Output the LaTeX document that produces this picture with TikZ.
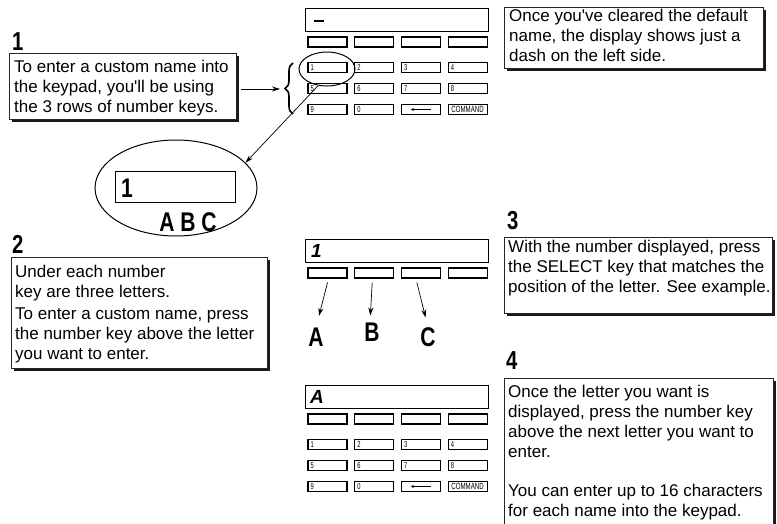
\documentclass[tikz,border=0pt]{standalone}
\usepackage{fontspec}
\setmainfont{Liberation Sans}[Ligatures=TeXOff]
\newfontfamily\headfont{Liberation Sans}[FakeStretch=0.78]
\newfontfamily\keyfont{Liberation Sans}[FakeStretch=0.68]
\usetikzlibrary{arrows.meta,shapes.geometric,decorations.pathreplacing}
\tikzset{
  box/.style={draw=black!85, line width=0.8pt, fill=white, inner sep=0, anchor=north west},
  txt/.style={inner sep=0, anchor=north west, align=left, font=\fontsize{17}{20}\selectfont},
  key/.style={draw, line width=1.1pt, minimum width=39pt, minimum height=10pt, inner sep=0},
  klbl/.style={inner sep=0, anchor=west, font=\keyfont\fontsize{8.5}{8.5}\selectfont},
  disp/.style={draw, line width=1.2pt, minimum width=183pt, minimum height=23pt, inner sep=0, anchor=north west},
  arr/.style={-{Stealth[length=8pt,width=5pt]}, line width=0.7pt},
  head/.style={inner sep=0, anchor=base west, font=\headfont\bfseries\fontsize{26}{26}\selectfont},
  bigl/.style={inner sep=0, font=\headfont\bfseries\fontsize{27}{27}\selectfont},
  dchar/.style={inner sep=0, anchor=west, font=\bfseries\itshape\fontsize{19}{19}\selectfont},
}
\newcommand\mybox[5]{%
  \fill[black!90] (#2+3,#3+3) rectangle (#4+3,#5+3);
  \node[box, minimum width=#4-#2, minimum height=#5-#3] (#1) at (#2,#3) {};}
\newcommand\keypad[2]{% #1 prefix, #2 top y of display
  \node[disp] (#1d) at (305,#2) {};
  \foreach \c [count=\i] in {327.5,374.2,420.9,467.6}{
    \node[key] (#1s\i) at (\c,#2+34) {};
    \node[key] (#1a\i) at (\c,#2+59.5) {};
    \node[klbl] (#1la\i) at ([xshift=3pt]#1a\i.west) {\i};
    \pgfmathtruncatemacro\j{\i+4}
    \node[key] (#1b\i) at (\c,#2+80.5) {};
    \node[klbl] (#1lb\i) at ([xshift=3pt]#1b\i.west) {\j};
    \node[key] (#1c\i) at (\c,#2+101.5) {};
  }
  \node[klbl] (#1lc1) at ([xshift=3pt]#1c1.west) {9};
  \node[klbl] (#1lc2) at ([xshift=3pt]#1c2.west) {0};
  \draw[-{Stealth[length=3pt,width=3pt]}, line width=0.6pt] ([xshift=10pt]#1c3.center) -- ([xshift=-10pt]#1c3.center);
  \node[inner sep=0, font=\keyfont\fontsize{9}{9}\selectfont] (#1cmd) at (#1c4.center) {COMMAND};
}
\begin{document}
\begin{tikzpicture}[x=1pt,y=-1pt]
\useasboundingbox (0,0) rectangle (777,523);
\fill[white] (0,0) rectangle (777,523);

% headings
\node[head] (h1) at (12,50) {1};
\node[head] (h2) at (12,253) {2};
\node[head] (h3) at (507,229) {3};
\node[head] (h4) at (506,369) {4};

% text boxes
\mybox{b0}{504}{7}{763}{68}
\node[txt] (t0) at (509,7) {\strut Once you've cleared the default\\name, the display shows just a\\dash on the left side.};

\mybox{b1}{9}{53}{236}{119}
\node[txt] (t1) at (14,58) {\strut To enter a custom name into\\the keypad, you'll be using\\the 3 rows of number keys.};

\mybox{b2}{11}{257}{267}{368}
\node[txt] (t2) at (15,263) {\strut Under each number\\key are three letters.\\[2pt]To enter a custom name, press\\the number key above the letter\\you want to enter.};

\mybox{b3}{504}{237}{772}{313}
\node[txt] (t3) at (508,238) {\strut With the number displayed, press\\the SELECT key that matches the\\position of the letter. See example.};

\mybox{b4}{504}{378}{773}{535}
\node[txt] (t4) at (508,383) {\strut Once the letter you want is\\displayed, press the number key\\above the next letter you want to\\enter.\\[19pt]You can enter up to 16 characters\\for each name into the keypad.};

% keypad 1 (top)
\keypad{P}{8}
\draw[line width=2.2pt] ([xshift=9pt,yshift=-1pt]Pd.west) -- ([xshift=19pt,yshift=-1pt]Pd.west);

% brace + arrow
\coordinate (brc) at (280,89);
\draw[line width=1.6pt, decorate, decoration={brace, amplitude=8pt}] (293,114) -- (293,63);
\draw[arr] ([xshift=4pt]b1.east |- brc) -- (brc);

% small ellipse and big ellipse
\node[draw, ellipse, line width=1pt, minimum width=56pt, minimum height=34pt, inner sep=0] (sel) at (327,69) {};
\node[draw, ellipse, line width=1pt, minimum width=162pt, minimum height=96pt, inner sep=0] (big) at (176,188) {};
\node[draw, line width=1.2pt, minimum width=120pt, minimum height=31pt, anchor=north west, inner sep=0] (bigd) at (115,171) {};
\node[bigl, anchor=base west] (bigone) at (121,197) {1};
\node[bigl, anchor=base] (abc) at (188,231) {A B C};
\draw[arr] (sel.242) -- (big.20);

% keypad 2 (step 3): display and select keys only
\node[disp] (Td) at (305,239) {};
\node[dchar] (Tone) at ([xshift=6pt]Td.west) {1};
\foreach \c [count=\i] in {327.5,374.2,420.9,467.6}{
  \node[key] (Ts\i) at (\c,273) {};
}
\node[bigl] (lA) at (316,337) {A};
\node[bigl] (lB) at (372,332) {B};
\node[bigl] (lC) at (428,337) {C};
\draw[arr, shorten >=12pt] ([yshift=-4pt]Ts1.south) -- (lA.north);
\draw[arr, shorten >=7pt] ([xshift=-2pt,yshift=-4pt]Ts2.south) -- ([xshift=-2pt]lB.north);
\draw[arr, shorten >=10pt] ([xshift=-4pt,yshift=-4pt]Ts3.south) -- (lC.north);

% keypad 3 (step 4)
\keypad{Q}{385}
\node[dchar] (Qa) at ([xshift=5pt]Qd.west) {A};
\end{tikzpicture}
\end{document}
